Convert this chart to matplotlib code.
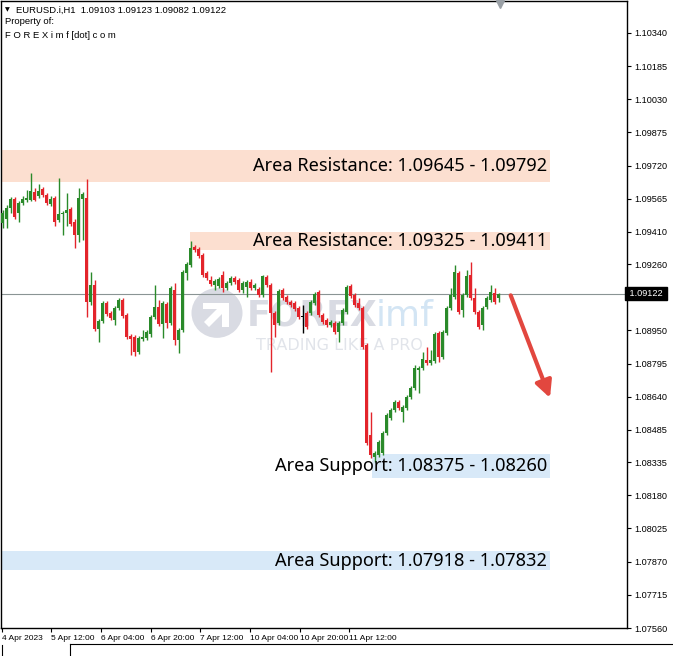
import matplotlib
matplotlib.use("Agg")
import matplotlib.pyplot as plt
from matplotlib.patches import Rectangle, Circle, Polygon
import numpy as np

# ---------------- data ----------------
opens = [1.09452,1.09471,1.09523,1.09564,1.09499,1.09546,1.09560,1.09560,1.09597,1.09578,
         1.09611,1.09583,1.09541,1.09569,1.09466,1.09494,1.09499,1.09518,1.09457,1.09396,
         1.09564,1.09569,1.09083,1.09163,1.08957,1.08994,1.09078,1.09032,1.08999,1.09055,
         1.09092,1.09022,1.08924,1.08919,1.08850,1.08910,1.08915,1.08933,1.09013,1.09059,
         1.08980,1.09073,1.08985,1.09139,1.08906,1.08952,1.09219,1.09256,1.09340,1.09331,
         1.09303,1.09219,1.09186,1.09163,1.09158,1.09210,1.09149,1.09172,1.09196,1.09186,
         1.09139,1.09153,1.09177,1.09149,1.09144,1.09116,1.09200,1.09163,1.09032,1.08985,
         1.09139,1.09106,1.09083,1.09078,1.09055,1.09013,1.09032,1.09032,1.09078,1.09130,
         1.09022,1.08999,1.08976,1.08985,1.08943,1.08985,1.09036,1.09158,1.09116,1.09078,
         1.09055,1.08882,1.08462,1.08359,1.08368,1.08378,1.08471,1.08542,1.08579,1.08616,
         1.08570,1.08588,1.08639,1.08682,1.08765,1.08775,1.08812,1.08798,1.08807,1.08938,
         1.08826,1.08938,1.09055,1.09106,1.09219,1.09046,1.09116,1.09210,1.09102,1.09036,
         1.08976,1.09059,1.09092,1.09125,1.09103]
highs = [1.09513,1.09537,1.09573,1.09573,1.09555,1.09578,1.09606,1.09686,1.09616,1.09634,
         1.09620,1.09592,1.09578,1.09578,1.09663,1.09508,1.09592,1.09527,1.09471,1.09616,
         1.09597,1.09658,1.09224,1.09186,1.09004,1.09087,1.09087,1.09041,1.09064,1.09102,
         1.09102,1.09032,1.08933,1.08929,1.08924,1.08952,1.08952,1.09022,1.09163,1.09092,
         1.09087,1.09083,1.09158,1.09172,1.08962,1.09233,1.09270,1.09368,1.09350,1.09340,
         1.09312,1.09228,1.09205,1.09191,1.09200,1.09228,1.09181,1.09205,1.09205,1.09196,
         1.09181,1.09186,1.09191,1.09172,1.09153,1.09210,1.09210,1.09172,1.09041,1.09144,
         1.09149,1.09116,1.09092,1.09087,1.09064,1.09069,1.09041,1.09092,1.09130,1.09139,
         1.09032,1.09008,1.08999,1.08994,1.08994,1.09055,1.09163,1.09167,1.09125,1.09102,
         1.09064,1.08892,1.08570,1.08387,1.08438,1.08480,1.08565,1.08588,1.08625,1.08625,
         1.08602,1.08649,1.08691,1.08789,1.08784,1.08850,1.08873,1.08859,1.08943,1.08947,
         1.08952,1.09064,1.09149,1.09256,1.09228,1.09125,1.09233,1.09270,1.09149,1.09046,
         1.09064,1.09111,1.09163,1.09149,1.09123]
lows = [1.09429,1.09429,1.09499,1.09471,1.09457,1.09537,1.09551,1.09555,1.09555,1.09569,
        1.09573,1.09537,1.09532,1.09438,1.09457,1.09396,1.09438,1.09438,1.09336,1.09364,
        1.09373,1.09013,1.09069,1.08947,1.08896,1.08985,1.09018,1.08999,1.08976,1.09046,
        1.09008,1.08910,1.08836,1.08831,1.08840,1.08901,1.08906,1.08919,1.09004,1.08971,
        1.08915,1.08962,1.08976,1.08882,1.08845,1.08943,1.09186,1.09246,1.09317,1.09289,
        1.09200,1.09186,1.09158,1.09139,1.09149,1.09130,1.09139,1.09163,1.09167,1.09130,
        1.09125,1.09106,1.09139,1.09139,1.09106,1.09106,1.09153,1.08756,1.08919,1.08976,
        1.09092,1.09073,1.09059,1.09041,1.09004,1.08938,1.08957,1.09022,1.09069,1.09013,
        1.08980,1.08966,1.08966,1.08933,1.08896,1.08976,1.09027,1.09102,1.09059,1.09046,
        1.08864,1.08415,1.08354,1.08336,1.08359,1.08368,1.08462,1.08532,1.08570,1.08579,
        1.08523,1.08579,1.08630,1.08672,1.08658,1.08765,1.08789,1.08789,1.08798,1.08803,
        1.08817,1.08929,1.09046,1.09097,1.09027,1.09013,1.09106,1.09092,1.09027,1.08957,
        1.08952,1.09050,1.09083,1.09073,1.09082]
closes = [1.09499,1.09523,1.09564,1.09480,1.09546,1.09564,1.09569,1.09601,1.09560,1.09601,
          1.09583,1.09546,1.09564,1.09457,1.09494,1.09499,1.09513,1.09447,1.09396,1.09569,
          1.09587,1.09083,1.09163,1.08957,1.08994,1.09078,1.09027,1.09008,1.09055,1.09092,
          1.09018,1.08919,1.08910,1.08850,1.08915,1.08919,1.08943,1.09013,1.09059,1.08980,
          1.09078,1.08985,1.09149,1.08906,1.08952,1.09224,1.09260,1.09336,1.09326,1.09298,
          1.09210,1.09196,1.09167,1.09181,1.09191,1.09149,1.09172,1.09196,1.09177,1.09139,
          1.09172,1.09177,1.09149,1.09163,1.09116,1.09205,1.09163,1.09032,1.08976,1.09134,
          1.09102,1.09083,1.09069,1.09050,1.09013,1.09013,1.08966,1.09083,1.09120,1.09022,
          1.08990,1.08976,1.08990,1.08943,1.08985,1.09046,1.09153,1.09111,1.09069,1.09055,
          1.08873,1.08424,1.08368,1.08378,1.08429,1.08471,1.08556,1.08579,1.08616,1.08588,
          1.08592,1.08639,1.08682,1.08775,1.08775,1.08817,1.08798,1.08812,1.08933,1.08826,
          1.08943,1.09055,1.09116,1.09224,1.09036,1.09116,1.09205,1.09102,1.09036,1.08966,
          1.09055,1.09102,1.09130,1.09083,1.09122]

y_ticks = [1.10340, 1.10185, 1.10030, 1.09875, 1.09720, 1.09565, 1.09410, 1.09260,
           1.08950, 1.08795, 1.08640, 1.08485, 1.08335, 1.08180, 1.08025, 1.07870,
           1.07715, 1.07560]
x_labels = ["4 Apr 2023", "5 Apr 12:00", "6 Apr 04:00", "6 Apr 20:00", "7 Apr 12:00",
            "10 Apr 04:00", "10 Apr 20:00", "11 Apr 12:00"]

resistance_zones = [(1.09645, 1.09792), (1.09325, 1.09411)]
support_zones = [(1.08375, 1.08260), (1.07918, 1.07832)]
current_price = 1.09122
arrow_target_price = 1.08635
header = "EURUSD.i,H1  1.09103 1.09123 1.09082 1.09122"

# ---------------- layout ----------------
W, H = 673, 656
fig = plt.figure(figsize=(W / 100, H / 100), dpi=100)
ax_l, ax_r, ax_t, ax_b = 1, 627, 1, 628
ax = fig.add_axes([ax_l / W, 1 - ax_b / H, (ax_r - ax_l) / W, (ax_b - ax_t) / H])
fig.patch.set_facecolor("white")

bar_px = 4.0
x0_px = 2.7
def px2bar(p):
    return (p - x0_px) / bar_px

ax.set_xlim(px2bar(ax_l), px2bar(ax_r))
ax.set_ylim(1.07560, 1.10489)

n = len(closes)
xs = np.arange(n)
green = "#2A8A2A"
red = "#E3242B"
small_font = "Liberation Sans"

def fpx(x, y):
    return (x / W, 1 - y / H)

# watermark (behind candles)
wm_col = "#D9DBE3"
circ = Circle(fpx(217, 313), radius=25.5 / W, transform=fig.transFigure,
              facecolor=wm_col, edgecolor="none", zorder=0.5)
ax.add_patch(circ)
cx, cy = 217, 313
arrow_shape = [(cx - 14, cy - 10), (cx + 12, cy - 10), (cx + 12, cy + 14), (cx + 5, cy + 14),
               (cx + 5, cy + 1), (cx - 8, cy + 14), (cx - 13, cy + 9), (cx, cy - 4), (cx - 14, cy - 4)]
ax.add_patch(Polygon([fpx(*p) for p in arrow_shape], closed=True, transform=fig.transFigure,
                     facecolor="white", edgecolor="none", zorder=0.6))
ax.text(*fpx(247, 316), "FOREX", transform=fig.transFigure, fontsize=25, fontweight="bold",
        color=wm_col, ha="left", va="center", zorder=0.6, family="DejaVu Sans")
ax.text(*fpx(376, 316), "imf", transform=fig.transFigure, fontsize=26,
        color="#D3E5F4", ha="left", va="center", zorder=0.6, family="DejaVu Sans")
ax.text(*fpx(256, 346), "TRADING LIKE A PRO", transform=fig.transFigure, fontsize=11.5,
        color="#E1E4EA", ha="left", va="center", zorder=0.6, family="DejaVu Sans")

# zones
box_right = px2bar(550)
zone_starts_res = [px2bar(ax_l), px2bar(190)]
zone_starts_sup = [px2bar(372), px2bar(ax_l)]
text_x = px2bar(547)
for (lo, hi), xs0 in zip(resistance_zones, zone_starts_res):
    ax.add_patch(Rectangle((xs0, lo), box_right - xs0, hi - lo, facecolor="#FCDFD0",
                           edgecolor="none", zorder=1))
    ax.text(text_x, (lo + hi) / 2, f"Area Resistance: {lo:.5f} - {hi:.5f}", ha="right",
            va="center", fontsize=13.1, family="Noto Sans", color="black", zorder=5)
for (a, b), xs0 in zip(support_zones, zone_starts_sup):
    ax.add_patch(Rectangle((xs0, min(a, b)), box_right - xs0, abs(a - b), facecolor="#D8E9F8",
                           edgecolor="none", zorder=1))
    ax.text(text_x, (a + b) / 2, f"Area Support: {a:.5f} - {b:.5f}", ha="right",
            va="center", fontsize=13.1, family="Noto Sans", color="black", zorder=5)

# current price line
ax.axhline(current_price, color="#8A9494", lw=0.8, zorder=2)

# candles
o = np.array(opens); c = np.array(closes); h = np.array(highs); l = np.array(lows)
cols = [green if cc > oo else (red if cc < oo else "black") for oo, cc in zip(o, c)]
ax.vlines(xs, l, h, colors=cols, lw=1.0, zorder=3)
bottoms = np.minimum(o, c)
heights = np.maximum(np.abs(c - o), 0.00003)
ax.bar(xs, heights, bottom=bottoms, width=0.75, color=cols, edgecolor="none", zorder=4)

# red arrow
ax.annotate("", xy=(px2bar(550), arrow_target_price), xytext=(xs[-1] + 3, closes[-1] - 0.00008),
            arrowprops=dict(arrowstyle="-|>,head_length=1.0,head_width=0.5", color="#E2473F",
                            lw=3, shrinkA=0, shrinkB=0), zorder=6)

# axes styling
for s in ax.spines.values():
    s.set_color("black"); s.set_linewidth(1.0)
ax.yaxis.tick_right()
ax.set_yticks(y_ticks)
ax.set_yticklabels([f"{t:.5f}" for t in y_ticks], fontsize=6.6, family=small_font)
ax.tick_params(axis="y", direction="out", length=3, width=0.8, pad=2, colors="black")
tick_px = [2, 51, 101, 151, 200, 250, 300, 349]
ax.set_xticks([px2bar(p) for p in tick_px])
ax.set_xticklabels(x_labels, fontsize=6.0, family=small_font, ha="left")
ax.tick_params(axis="x", direction="out", length=3, width=0.8, pad=2)

# current price tag
ax.text(1.0, current_price, f" {current_price:.5f} ", transform=ax.get_yaxis_transform(),
        ha="left", va="center", fontsize=6.6, color="white", family=small_font,
        bbox=dict(boxstyle="square,pad=0.2", facecolor="black", edgecolor="black"),
        zorder=10, clip_on=False)

# header text
fig.text(*fpx(5, 10), "\u25BC", fontsize=4.5, ha="left", va="center", color="black")
fig.text(*fpx(16, 10), header, fontsize=6.8, ha="left", va="center", family=small_font)
fig.text(*fpx(5, 22), "Property of:", fontsize=6.8, ha="left", va="center", family=small_font)
fig.text(*fpx(5, 35), "F O R E X i m f [dot] c o m", fontsize=6.8, ha="left", va="center",
         family=small_font)

# chart-shift marker at top
ax.plot([0.797], [0.996], marker="v", markersize=6, color="#9AA0A6", transform=ax.transAxes,
        clip_on=False, zorder=10)

# bottom tab strip
fig.add_artist(plt.Line2D([70 / W, 1], [1 - 644 / H] * 2, color="black", lw=0.8))
fig.add_artist(plt.Line2D([70 / W] * 2, [1 - 644 / H, 0], color="black", lw=0.8))
fig.add_artist(plt.Line2D([2 / W] * 2, [1 - 645 / H, 0], color="black", lw=0.8))

fig.savefig("out.png", dpi=100)
